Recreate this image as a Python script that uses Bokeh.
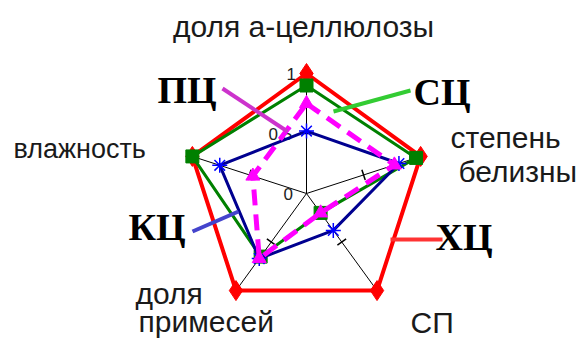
import math
from bokeh.plotting import figure
from bokeh.models import Range1d
from bokeh.core.properties import value
from bokeh.embed import file_html
from bokeh.resources import INLINE

# ---- data ----
categories = ["доля а-целлюлозы", "степень белизны", "СП", "доля примесей", "влажность"]
series_names = ["ХЦ", "СЦ", "КЦ", "ПЦ"]
xc_values = [1.0, 1.0, 1.0, 1.0, 1.0]          # ХЦ (red)
sc_values = [0.90, 0.96, 0.20, 0.65, 1.0]      # СЦ (green)
kc_values = [0.52, 0.81, 0.38, 0.67, 0.76]     # КЦ (blue)
pc_values = [0.75, 0.77, 0.20, 0.67, 0.47]     # ПЦ (magenta)
tick_values = [0, 0.5, 1]
tick_labels = ["0", "0.5", "1"]

W, H = 580, 342
R = 120.0              # px per unit
CX, CY = 306.0, 193.0  # center in frame px
SHIFT = 0.36           # baseline correction (fraction of font size)

def px(X, Y):
    """screenshot pixel -> data coords"""
    return ((X - CX) / R, (CY - Y) / R)

n = len(categories)
angles = [math.pi / 2 - 2 * math.pi * k / n for k in range(n)]

def polar(vals):
    xs = [v * math.cos(a) for v, a in zip(vals, angles)]
    ys = [v * math.sin(a) for v, a in zip(vals, angles)]
    return xs, ys

p = figure(width=W, height=H, output_backend="svg", toolbar_location=None,
           x_range=Range1d(-CX / R, (W - CX) / R),
           y_range=Range1d(-(H - CY) / R, CY / R),
           min_border=0, outline_line_color=None)
p.axis.visible = False
p.grid.visible = False
p.background_fill_color = "white"
p.border_fill_color = "white"

def label(X, Y, t, font, fs, style="normal", align="left", color="#1a1a1a"):
    q = px(X, Y - SHIFT * fs)
    p.text([q[0]], [q[1]], text=[t], text_font=value(font), text_font_size=f"{fs}px",
           text_font_style=style, text_color=color, text_align=align,
           text_baseline="alphabetic")

# axes
ax_x, ax_y = polar([1.0] * n)
for x1, y1 in zip(ax_x, ax_y):
    p.line([0, x1], [0, y1], line_color="black", line_width=1)
for a in angles:
    mx, my = 0.5 * math.cos(a), 0.5 * math.sin(a)
    nx, ny = -math.sin(a) * 0.045, math.cos(a) * 0.045
    p.line([mx - nx, mx + nx], [my - ny, my + ny], line_color="black", line_width=1.5)

tl_pos = [(283, 200), (268, 140), (286, 80)]
for t, (X, Y) in zip(tick_labels, tl_pos):
    label(X, Y, t, "Liberation Sans", 17, color="#222222")

def draw(vals, color, lw, marker, msize, mcolor, dash="solid"):
    xs, ys = polar(vals)
    p.line(xs + xs[:1], ys + ys[:1], line_color=color, line_width=lw, line_dash=dash)
    if marker == "asterisk":
        p.scatter(xs, ys, marker="asterisk", size=msize, line_color=mcolor, line_width=1.5)
    else:
        p.scatter(xs, ys, marker=marker, size=msize, fill_color=mcolor, line_color=mcolor)

draw(xc_values, "#ff0000", 4, "diamond", 20, "#ff0000")
draw(sc_values, "#008000", 3, "square", 13, "#008000")
draw(kc_values, "#000090", 3, "asterisk", 15, "#0000ff")
draw(pc_values, "#ff00ff", 5, "triangle", 14, "#ff00ff", dash="16 9")

leaders = [((222, 88), (287, 131), "#cc33cc"),
           ((410, 90), (333, 111), "#33cc33"),
           ((442, 239), (390, 239), "#ff3333"),
           ((192, 231), (238, 211), "#4444cc")]
for (a, b, c) in leaders:
    pa, pb = px(*a), px(*b)
    p.line([pa[0], pb[0]], [pa[1], pb[1]], line_color=c, line_width=4)

cat_lines = ["доля а-целлюлозы", "степень", "белизны", "СП", "доля", "примесей", "влажность"]
cat_pos = [(303, 37), (450, 148), (458, 182), (410, 333), (135, 304), (138, 332), (13, 158)]
cat_size = [30, 30, 30, 30, 30, 30, 27]
cat_align = ["center", "left", "left", "left", "left", "left", "left"]
for t, (X, Y), al, fs in zip(cat_lines, cat_pos, cat_align, cat_size):
    label(X, Y, t, "Liberation Sans", fs, align=al)

name_pos = {"ПЦ": (157, 103), "СЦ": (413, 105), "ХЦ": (435, 250), "КЦ": (128, 240)}
for nm in series_names:
    X, Y = name_pos[nm]
    label(X, Y, nm, "Liberation Serif", 38, style="bold", color="black")

open("out.html", "w").write(file_html(p, INLINE))
